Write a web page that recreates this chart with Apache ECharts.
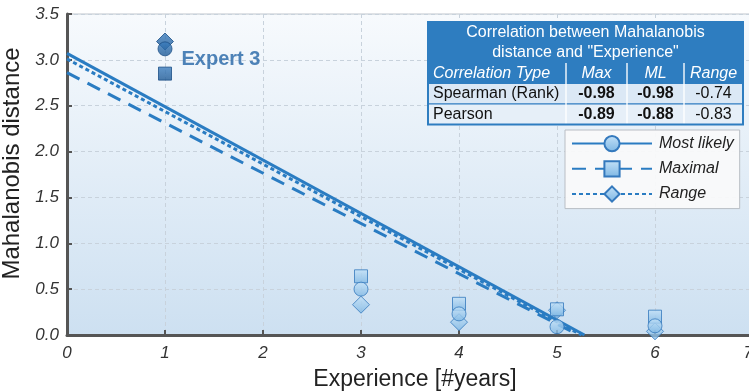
<!DOCTYPE html>
<html>
<head>
<meta charset="utf-8">
<style>
  html, body { margin: 0; padding: 0; background: #ffffff; }
  #chart { width: 749px; height: 392px; }
</style>
<script src="https://cdn.jsdelivr.net/npm/echarts@6/dist/echarts.min.js"></script>
</head>
<body>
<div id="chart"></div>
<script>
// Years of experience per expert
const experience = [1, 3, 4, 5, 6];
// Mahalanobis distance per estimate type
const mostLikely = [3.12, 0.50, 0.23, 0.09, 0.10];
const maximal    = [2.85, 0.64, 0.34, 0.28, 0.20];
const rangeVals  = [3.20, 0.33, 0.14, 0.27, 0.04];
// Linear fits (start / end points, clipped at zero)
const fitMostLikely = [[0, 3.07], [5.28, 0]];
const fitMaximal    = [[0, 2.86], [5.22, 0]];
const fitRange      = [[0, 3.01], [5.25, 0]];
// Highlighted expert
const highlightIndex = 0;
const highlightLabel = 'Expert 3';
// Axis ticks
const xTicks = [0, 1, 2, 3, 4, 5, 6, 7];
const yTicks = [0, 0.5, 1, 1.5, 2, 2.5, 3, 3.5];
// Correlation table
const tableTitle = ['Correlation between Mahalanobis', 'distance and "Experience"'];
const tableHeader = ['Correlation Type', 'Max', 'ML', 'Range'];
const tableRows = [
  ['Spearman (Rank)', '-0.98', '-0.98', '-0.74'],
  ['Pearson', '-0.89', '-0.88', '-0.83']
];
const seriesNames = ['Most likely', 'Maximal', 'Range'];

const FONT = '"Liberation Sans", Arial, sans-serif';
const BLUE = '#2a7cc2';
const markerFill = new echarts.graphic.LinearGradient(0, 0, 0, 1, [
  { offset: 0, color: '#c4e2f8' },
  { offset: 1, color: '#7db6e3' }
]);
const darkFill = new echarts.graphic.LinearGradient(0, 0, 0, 1, [
  { offset: 0, color: '#3d7fc0' },
  { offset: 1, color: '#1d5894' }
]);

function pts(vals, withLabel) {
  return experience.map((x, i) => {
    const d = { value: [x, vals[i]] };
    if (i === highlightIndex) {
      d.itemStyle = { color: darkFill, borderColor: '#1b4f86' };
      if (withLabel) {
        d.label = {
          show: true, formatter: highlightLabel, position: 'right',
          distance: 9, offset: [0, 11],
          color: '#2465a6', fontSize: 20, fontWeight: 'bold', fontFamily: FONT
        };
      }
    }
    return d;
  });
}

const markerItem = { color: markerFill, borderColor: '#3479bd', borderWidth: 1 };

// Table graphic built from the arrays above
const colX = [428, 566, 627, 684, 743];
const tTop = 22, titleH = 41, rowH = 20.5;
const tableEls = [];
tableEls.push({ type: 'rect', shape: { x: colX[0], y: tTop, width: colX[4] - colX[0], height: titleH + rowH },
  style: { fill: '#2e7dc0' }, z: 10 });
tableTitle.forEach((t, i) => {
  tableEls.push({ type: 'text', x: (colX[0] + colX[4]) / 2, y: tTop + 11 + i * 20,
    style: { text: t, fill: '#ffffff', font: '16px ' + FONT, textAlign: 'center', textVerticalAlign: 'middle' }, z: 11 });
});
tableHeader.forEach((t, c) => {
  const cx = c === 0 ? colX[0] + 5 : (colX[c] + colX[c + 1]) / 2;
  tableEls.push({ type: 'text', x: cx, y: tTop + titleH + rowH / 2,
    style: { text: t, fill: '#ffffff', font: 'italic 16px ' + FONT, textAlign: c === 0 ? 'left' : 'center', textVerticalAlign: 'middle' }, z: 11 });
});
tableRows.forEach((row, r) => {
  const y0 = tTop + titleH + rowH * (r + 1);
  tableEls.push({ type: 'rect', shape: { x: colX[0], y: y0, width: colX[4] - colX[0], height: rowH },
    style: { fill: r === 0 ? '#dbe8f5' : '#e6eff8', stroke: '#2e7dc0', lineWidth: 1 }, z: 10 });
  row.forEach((t, c) => {
    const cx = c === 0 ? colX[0] + 5 : (colX[c] + colX[c + 1]) / 2;
    tableEls.push({ type: 'text', x: cx, y: y0 + rowH / 2,
      style: { text: t, fill: '#111111', font: ((c === 1 || c === 2) ? 'bold ' : '') + '16px ' + FONT,
        textAlign: c === 0 ? 'left' : 'center', textVerticalAlign: 'middle' }, z: 11 });
  });
});
for (let c = 1; c < 4; c++) {
  tableEls.push({ type: 'line', shape: { x1: colX[c], y1: tTop + titleH, x2: colX[c], y2: tTop + titleH + rowH * 3 },
    style: { stroke: '#ffffff', lineWidth: 1.5, opacity: 0.9 }, z: 12 });
}
tableEls.push({ type: 'rect', shape: { x: colX[0], y: tTop, width: colX[4] - colX[0], height: titleH + rowH * 3 },
  style: { fill: 'none', stroke: '#2e7dc0', lineWidth: 2 }, z: 12 });

const chart = echarts.init(document.getElementById('chart'), null, { renderer: 'canvas' });
chart.setOption({
  animation: false,
  textStyle: { fontFamily: FONT },
  grid: {
    left: 67, right: -4, top: 14, bottom: 57,
    containLabel: false,
    outerBoundsMode: 'none',
    show: true,
    backgroundColor: new echarts.graphic.LinearGradient(0, 0, 0, 1, [
      { offset: 0, color: '#f7fafd' },
      { offset: 1, color: '#cde0f1' }
    ]),
    borderColor: '#bfc5cc', borderWidth: 1
  },
  legend: {
    orient: 'vertical', left: 565, top: 130,
    data: seriesNames,
    itemWidth: 80, itemHeight: 19, itemGap: 8,
    padding: [5, 6, 6, 6],
    backgroundColor: 'rgba(250,250,250,0.92)',
    borderColor: '#b9bec4', borderWidth: 1,
    textStyle: { fontSize: 16, fontStyle: 'italic', color: '#222', fontFamily: FONT, padding: [0, 0, 0, 2] }
  },
  xAxis: {
    type: 'value', min: 0, max: 7, interval: 1,
    name: 'Experience [#years]', nameLocation: 'middle', nameGap: 33,
    nameTextStyle: { fontSize: 23, color: '#222', padding: [0, 0, 0, 10] },
    axisLine: { onZero: false, lineStyle: { color: '#555', width: 3 } },
    axisTick: { show: true, inside: true, length: 5, lineStyle: { color: '#555', width: 2 } },
    axisLabel: { fontSize: 17, fontStyle: 'italic', color: '#333', margin: 10, hideOverlap: false,
      showMaxLabel: true, showMinLabel: true, alignMaxLabel: 'right',
      formatter: v => xTicks.includes(v) ? String(v) : '' },
    splitLine: { show: true, lineStyle: { color: '#c8d2dc', type: [4, 3] } }
  },
  yAxis: {
    type: 'value', min: 0, max: 3.5, interval: 0.5,
    name: 'Mahalanobis distance', nameLocation: 'middle', nameGap: 34,
    nameTextStyle: { fontSize: 24, color: '#222', padding: [0, 0, 0, 22] },
    axisLine: { show: true, onZero: false, lineStyle: { color: '#555', width: 3 } },
    axisTick: { show: true, inside: true, length: 5, lineStyle: { color: '#555', width: 2 } },
    axisLabel: { fontSize: 17, fontStyle: 'italic', color: '#333', margin: 8,
      formatter: v => yTicks.includes(v) ? v.toFixed(1) : '' },
    splitLine: { show: true, lineStyle: { color: '#c8d2dc', type: [4, 3] } }
  },
  series: [
    { name: 'Most likely', type: 'line', data: fitMostLikely, showSymbol: false, symbol: 'circle', symbolSize: 14,
      itemStyle: markerItem, lineStyle: { color: BLUE, width: 3 }, z: 3 },
    { name: 'Maximal', type: 'line', data: fitMaximal, showSymbol: false, symbol: 'rect', symbolSize: 13,
      itemStyle: markerItem, lineStyle: { color: BLUE, width: 3, type: [14, 9] }, z: 3 },
    { name: 'Range', type: 'line', data: fitRange, showSymbol: false, symbol: 'diamond', symbolSize: 16,
      itemStyle: markerItem, lineStyle: { color: BLUE, width: 3, type: [4, 3] }, z: 3 },
    { name: 'Range', type: 'scatter', data: pts(rangeVals, false), symbol: 'diamond', symbolSize: 17,
      itemStyle: markerItem, z: 4 },
    { name: 'Maximal', type: 'scatter', data: pts(maximal, false), symbol: 'rect', symbolSize: 13,
      itemStyle: markerItem, z: 5 },
    { name: 'Most likely', type: 'scatter', data: pts(mostLikely, true), symbol: 'circle', symbolSize: 14,
      itemStyle: markerItem, z: 6 }
  ],
  graphic: tableEls
});
</script>
</body>
</html>
